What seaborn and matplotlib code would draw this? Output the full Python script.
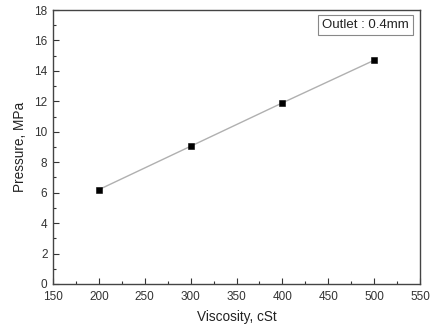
import pandas as pd
import matplotlib
matplotlib.use('Agg')
import matplotlib.pyplot as plt
import seaborn as sns
from matplotlib.ticker import AutoMinorLocator

viscosity = [200, 300, 400, 500]
pressure = [6.2, 9.05, 11.9, 14.7]

df = pd.DataFrame({'Viscosity': viscosity, 'Pressure': pressure})

sns.set_style('ticks')
plt.rcParams['font.family'] = ['Liberation Sans', 'DejaVu Sans']

fig = plt.figure(figsize=(4.33, 3.24), dpi=100)
ax = fig.add_axes([0.1224, 0.1235, 0.8476, 0.8455])

sns.lineplot(x='Viscosity', y='Pressure', data=df, color='#b0b0b0', linewidth=1.0, ax=ax)
sns.scatterplot(x='Viscosity', y='Pressure', data=df, color='black', marker='s', s=24,
                edgecolor='black', ax=ax, zorder=3)

ax.set_xlim(150, 550)
ax.set_ylim(0, 18)
ax.set_xticks(range(150, 551, 50))
ax.set_yticks(range(0, 19, 2))
ax.xaxis.set_minor_locator(AutoMinorLocator(2))
ax.yaxis.set_minor_locator(AutoMinorLocator(2))
ax.tick_params(which='both', direction='in', colors='#333333', labelsize=8.5, width=0.8)
ax.tick_params(axis='x', pad=5)
ax.tick_params(axis='y', pad=4)
ax.tick_params(which='major', length=4)
ax.tick_params(which='minor', length=2)
for s in ax.spines.values():
    s.set_color('#444444')
    s.set_linewidth(1.0)

ax.set_xlabel('Viscosity, cSt', fontsize=9.8, color='#222222', labelpad=5)
ax.set_ylabel('Pressure, MPa', fontsize=9.8, color='#222222', labelpad=5)

ax.text(0.97, 0.945, 'Outlet : 0.4mm', transform=ax.transAxes, ha='right', va='center',
        fontsize=9.5, color='#222222',
        bbox=dict(boxstyle='square,pad=0.3', facecolor='white', edgecolor='#888888', linewidth=0.8))

fig.savefig('out.png', dpi=100)
